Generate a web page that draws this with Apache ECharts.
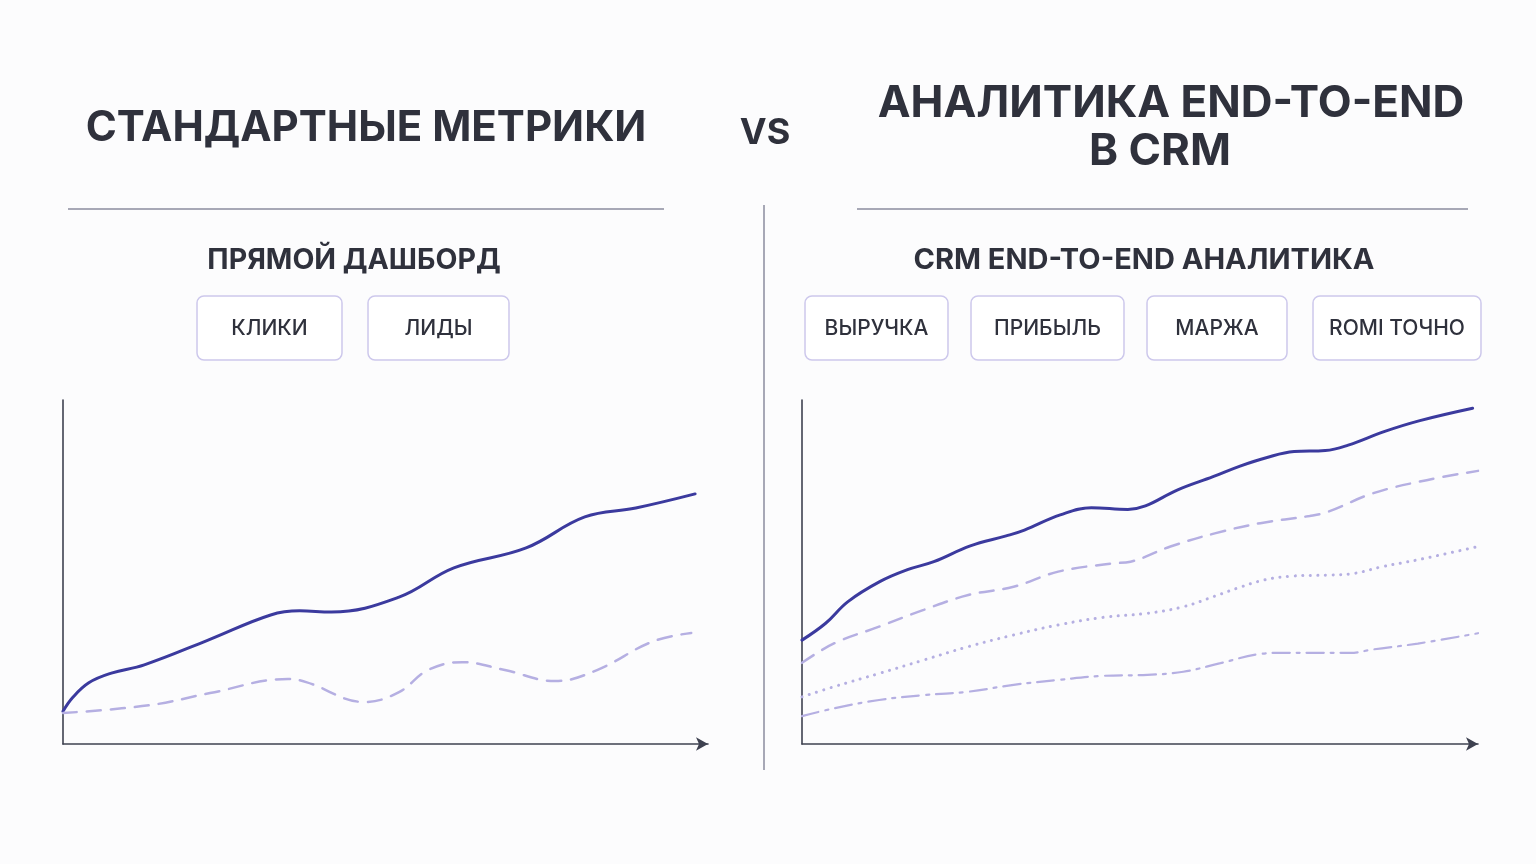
<!DOCTYPE html>
<html>
<head>
<meta charset="utf-8">
<title>Стандартные метрики vs аналитика end-to-end</title>
<script src="https://cdn.jsdelivr.net/npm/echarts@6/dist/echarts.min.js"></script>
<style>
    html, body { margin: 0; padding: 0; background: #fcfcfd; }
    #chart { width: 1536px; height: 864px; }
</style>
</head>
<body>
<div id="chart"></div>
<script>
// --- данные (условные единицы 0..100 по обеим осям) ---
var leftTags = ['КЛИКИ', 'ЛИДЫ'];
var rightTags = ['ВЫРУЧКА', 'ПРИБЫЛЬ', 'МАРЖА', 'ROMI ТОЧНО'];

// левая панель: клики (сплошная) и лиды (пунктир)
var clicksX = [0, 1.5, 4.0, 7.5, 12.6, 22.5, 32.2, 36.7, 41.6, 52.1, 60.6, 71.8, 80.9, 88.8, 98.0];
var clicksY = [9.5, 13.5, 17.8, 20.6, 23.0, 30.2, 37.5, 38.7, 38.4, 42.7, 51.2, 57.0, 66.0, 68.6, 72.7];
var leadsX = [0, 13.5, 22.8, 34.9, 37.7, 46.8, 52.1, 56.6, 61.9, 68.5, 76.3, 82.8, 91.3, 97.4];
var leadsY = [9.0, 11.3, 14.8, 18.9, 18.0, 12.2, 15.1, 21.5, 23.8, 21.5, 18.3, 21.5, 29.7, 32.3];

// правая панель: выручка, прибыль, маржа, ROMI
var revenueX = [0, 3.5, 6.8, 11.5, 15.5, 19.5, 24.9, 30.2, 32.9, 38.2, 42.8, 48.2, 50.8, 55.5, 60.8, 64.8, 68.8, 72.8, 77.4, 80.8, 86.1, 91.4, 99.2];
var revenueY = [30.2, 35.1, 41.4, 47.2, 50.6, 53.0, 57.6, 60.5, 62.2, 66.6, 68.7, 68.2, 69.2, 73.8, 77.7, 80.8, 83.3, 85.0, 85.3, 86.9, 90.8, 94.0, 97.6];
var profitX = [0, 4.8, 11.4, 18.0, 24.6, 31.3, 37.9, 45.9, 48.6, 54.5, 61.2, 67.8, 75.1, 77.8, 84.5, 92.4, 100];
var profitY = [23.6, 29.3, 34.1, 39.0, 43.3, 45.7, 50.1, 52.5, 53.0, 57.4, 61.3, 64.2, 66.3, 67.5, 72.9, 76.7, 79.4];
var marginX = [0, 4.8, 11.4, 18.0, 24.6, 31.3, 37.9, 44.5, 51.1, 56.4, 61.1, 64.4, 68.4, 72.4, 77.7, 81.7, 85.7, 91.0, 100];
var marginY = [13.7, 16.7, 20.5, 24.4, 28.3, 31.7, 34.6, 36.8, 38.0, 39.9, 43.0, 45.3, 47.7, 48.8, 49.1, 49.6, 51.5, 53.5, 57.4];
var romiX = [0, 4.8, 11.4, 18.0, 24.6, 31.3, 37.9, 44.5, 51.1, 56.4, 61.9, 67.9, 71.2, 76.5, 81.1, 84.5, 91.1, 100];
var romiY = [8.1, 10.4, 12.8, 14.2, 15.2, 17.2, 18.6, 19.8, 20.1, 21.0, 23.5, 26.2, 26.5, 26.5, 26.5, 27.5, 29.2, 32.2];

function pairs(xs, ys) {
    return xs.map(function (x, i) { return [x, ys[i]]; });
}

var INK = '#2f313c';
var AXIS = '#3e4150';
var MAIN = '#3b3a9e';
var SOFT = '#b5afe2';
var FONT = 'Inter, "Noto Sans", sans-serif';

// подписи-кнопки
function tag(label, x, w) {
    return [{
        type: 'rect',
        shape: { x: x, y: 296, width: w, height: 64, r: 7 },
        style: { fill: '#ffffff', stroke: '#cdc8ec', lineWidth: 1.5 }
    }, {
        type: 'text',
        x: x + w / 2, y: 329,
        style: { text: label, fill: INK, font: '500 21px ' + FONT, align: 'center', verticalAlign: 'middle' }
    }];
}

function title(text, x, y, size) {
    return {
        type: 'text', x: x, y: y,
        style: { text: text, fill: INK, font: '700 ' + size + 'px ' + FONT, align: 'center', verticalAlign: 'middle' }
    };
}

function line(x1, y1, x2, y2) {
    return {
        type: 'line',
        shape: { x1: x1, y1: y1, x2: x2, y2: y2 },
        style: { stroke: '#8b8d9e', lineWidth: 1.5 }
    };
}

var graphics = [
    title('СТАНДАРТНЫЕ МЕТРИКИ', 366, 128, 42),
    title('VS', 765, 133, 36),
    title('АНАЛИТИКА END-TO-END', 1171, 104, 44),
    title('В CRM', 1160, 152, 44),
    line(68, 209, 664, 209),
    line(857, 209, 1468, 209),
    line(764, 205, 764, 770),
    title('ПРЯМОЙ ДАШБОРД', 354, 260, 28.5),
    title('CRM END-TO-END АНАЛИТИКА', 1144, 260, 29)
]
    .concat(tag(leftTags[0], 197, 145))
    .concat(tag(leftTags[1], 368, 141))
    .concat(tag(rightTags[0], 805, 143))
    .concat(tag(rightTags[1], 971, 153))
    .concat(tag(rightTags[2], 1147, 140))
    .concat(tag(rightTags[3], 1313, 168));

function xAxis(idx) {
    return {
        type: 'value', gridIndex: idx, min: 0, max: 100,
        axisLine: { show: true, symbol: ['none', 'arrow'], symbolSize: [10, 12], lineStyle: { color: AXIS, width: 1.6 } },
        axisTick: { show: false }, axisLabel: { show: false }, splitLine: { show: false }
    };
}
function yAxis(idx) {
    return {
        type: 'value', gridIndex: idx, min: 0, max: 100,
        axisLine: { show: true, lineStyle: { color: AXIS, width: 1.6 } },
        axisTick: { show: false }, axisLabel: { show: false }, splitLine: { show: false }
    };
}
function series(name, idx, data, color, width, type) {
    return {
        name: name, type: 'line', xAxisIndex: idx, yAxisIndex: idx,
        data: data, smooth: 0.4, showSymbol: false, silent: true,
        lineStyle: { color: color, width: width, type: type, cap: 'round' }
    };
}

var chart = echarts.init(document.getElementById('chart'));
chart.setOption({
    backgroundColor: '#fcfcfd',
    animation: false,
    graphic: graphics,
    grid: [
        { left: 63, top: 400, width: 645, height: 344 },
        { left: 802, top: 400, width: 676, height: 344 }
    ],
    xAxis: [xAxis(0), xAxis(1)],
    yAxis: [yAxis(0), yAxis(1)],
    series: [
        series('Клики', 0, pairs(clicksX, clicksY), MAIN, 3, 'solid'),
        series('Лиды', 0, pairs(leadsX, leadsY), SOFT, 2.5, [14, 10]),
        series('Выручка', 1, pairs(revenueX, revenueY), MAIN, 3, 'solid'),
        series('Прибыль', 1, pairs(profitX, profitY), SOFT, 2.5, [14, 10]),
        series('Маржа', 1, pairs(marginX, marginY), SOFT, 3, [0.1, 7.5]),
        series('ROMI', 1, pairs(romiX, romiY), SOFT, 2.2, [17, 7, 3, 7])
    ]
});

window.onresize = function () {
    chart.resize();
};
</script>
</body>
</html>
